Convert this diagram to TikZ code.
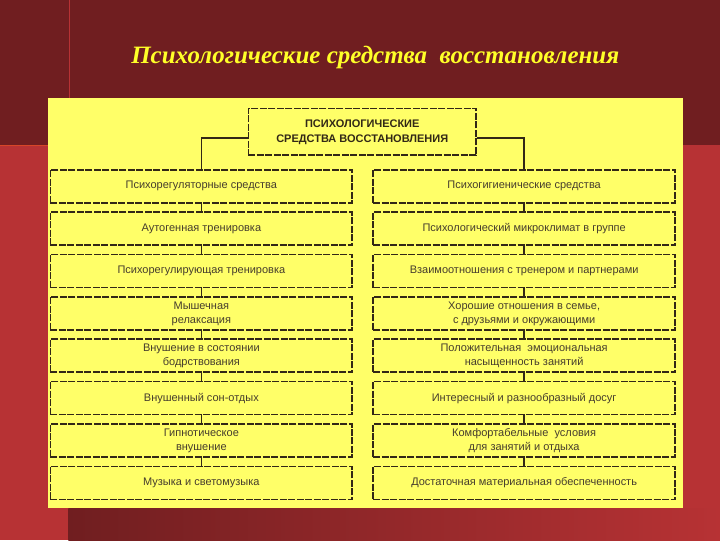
\documentclass[tikz,border=0pt]{standalone}
\usepackage{fontspec}
\setmainfont{Liberation Sans}
\newfontfamily\titlefont{Liberation Serif}
\usepackage{xcolor}
\usepackage{tikz}
\usetikzlibrary{positioning}
\definecolor{maroon}{RGB}{112,30,32}
\definecolor{slidered}{RGB}{183,50,52}
\definecolor{stripe}{RGB}{214,70,40}
\definecolor{panel}{RGB}{255,255,104}
\definecolor{ink}{RGB}{50,40,22}
\definecolor{titleyellow}{RGB}{255,255,40}
\tikzstyle{means}=[rectangle, draw=ink, line width=1.6pt, dash pattern=on 7pt off 1.5pt, fill=panel,
        text centered, align=center, text=ink, font=\fontsize{11}{15}\selectfont\bfseries,
        minimum width=228pt, minimum height=47pt]
\tikzstyle{item}=[rectangle, draw=ink, line width=1.6pt, dash pattern=on 7pt off 1.5pt, fill=panel,
        text centered, align=center, text=ink!90, font=\fontsize{11}{14}\selectfont,
        inner sep=1pt, minimum width=302pt, minimum height=33pt]
\tikzstyle{link}=[draw=ink, line width=1.6pt]

\begin{document}
\begin{tikzpicture}[x=1pt, y=-1pt, node distance=7.8pt]
        % slide background
        \fill[maroon] (0,0) rectangle (720,540);
        \fill[slidered] (0,145) rectangle (720,540);
        \shade[left color=maroon, middle color=maroon, right color=slidered] (68,508) rectangle (720,540);
        \draw[stripe, line width=1pt] (0,145) -- (48,145);
        \draw[slidered, line width=0.8pt] (69,0) -- (69,98);
        \fill[panel] (48,98) rectangle (683,508);

        \node (title) at (375,57) [text=titleyellow, font=\titlefont\bfseries\itshape\fontsize{25}{29}\selectfont]
        {Психологические средства\ \ восстановления};

        \node (Means) [means] at (362,131.5)
        {
          ПСИХОЛОГИЧЕСКИЕ\\СРЕДСТВА ВОССТАНОВЛЕНИЯ
        };

        % left column
        \node (Regulatory) [item] at (201,186) {Психорегуляторные средства};
        \node (Autogenic) [item, below=of Regulatory] {Аутогенная тренировка};
        \node (Training) [item, below=of Autogenic] {Психорегулирующая тренировка};
        \node (Relaxation) [item, below=of Training] {Мышечная\\релаксация};
        \node (Waking) [item, below=of Relaxation] {Внушение в состоянии\\бодрствования};
        \node (Sleep) [item, below=of Waking] {Внушенный сон-отдых};
        \node (Hypnosis) [item, below=of Sleep] {Гипнотическое\\внушение};
        \node (Music) [item, below=of Hypnosis] {Музыка и светомузыка};

        % right column
        \node (Hygienic) [item] at (524,186) {Психогигиенические средства};
        \node (Climate) [item, below=of Hygienic] {Психологический микроклимат в группе};
        \node (Coach) [item, below=of Climate] {Взаимоотношения с тренером и партнерами};
        \node (Family) [item, below=of Coach] {Хорошие отношения в семье,\\с друзьями и окружающими};
        \node (Emotion) [item, below=of Family] {Положительная \ эмоциональная\\насыщенность занятий};
        \node (Leisure) [item, below=of Emotion] {Интересный и разнообразный досуг};
        \node (Comfort) [item, below=of Leisure] {Комфортабельные \ условия\\для занятий и отдыха};
        \node (Material) [item, below=of Comfort] {Достаточная материальная обеспеченность};

        \draw[link] ([yshift=-6pt]Means.west) -| (Regulatory.north);
        \draw[link] ([yshift=-6pt]Means.east) -| (Hygienic.north);
        \foreach \a/\b in {Regulatory/Autogenic, Autogenic/Training, Training/Relaxation,
            Relaxation/Waking, Waking/Sleep, Sleep/Hypnosis, Hypnosis/Music,
            Hygienic/Climate, Climate/Coach, Coach/Family, Family/Emotion,
            Emotion/Leisure, Leisure/Comfort, Comfort/Material}
          \draw[link] (\a.south) -- (\b.north);
\end{tikzpicture}
\end{document}
